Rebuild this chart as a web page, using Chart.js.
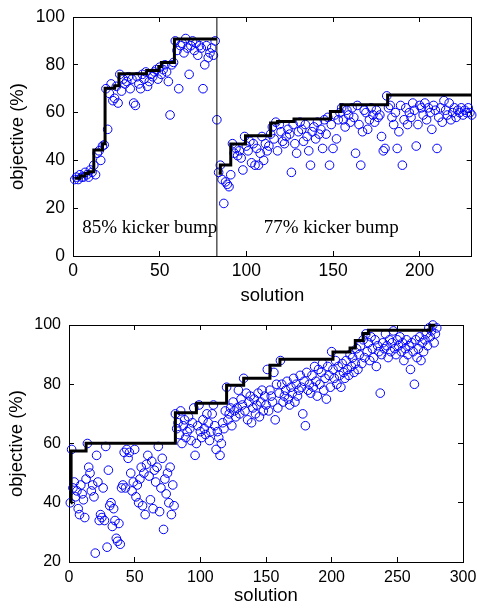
<!DOCTYPE html>
<html>
<head>
<meta charset="utf-8">
<script src="https://cdn.jsdelivr.net/npm/chart.js@4"></script>
<style>
  body { margin: 0; background: #fff; }
  canvas { position: absolute; left: 0; top: 0; }
</style>
</head>
<body>
<canvas id="top-chart" width="477" height="608"></canvas>
<canvas id="bottom-chart" width="477" height="608"></canvas>
<script>
// top plot: objective per solution, x = index + 1
const topObjective = [
  32, 33, 32, 34, 33, 33, 35, 34, 33, 36,
  35, 38, 34, 43, 44, 40, 46, 46.5, 70, 53,
  68, 72, 65, 66, 71, 64, 76, 69, 74, 72,
  73, 75, 70, 74, 64, 63, 75, 72, 70, 76,
  74, 77, 71, 73, 76, 75, 77, 78, 74, 79,
  76, 78, 80, 77, 73, 59, 80, 81, 90, 86,
  70, 88, 89, 85, 91, 87, 76, 88, 90, 86,
  89, 84, 88, 87, 70, 80, 88, 83, 85, 87,
  84, 90, 57,
  35, 38, 32, 22, 31, 30, 29, 34, 47, 43,
  45, 42, 44, 41, 36, 50, 46, 44, 48, 39,
  47, 38, 45, 38, 43, 50, 40, 47, 44, 46,
  51, 54, 49, 56, 44, 55, 52, 48, 47, 50,
  53, 51, 35, 55, 47, 43, 52, 56, 53, 48,
  55, 50, 44, 38, 52, 54, 49, 56, 51, 53,
  45, 57, 51, 58, 38, 55, 45, 59, 49, 57,
  60, 62, 57, 54, 61, 59, 56, 62, 58, 43,
  63, 55, 38, 52, 61, 60, 53, 57, 62, 59,
  56, 61, 58, 59, 50, 44, 45, 67, 62, 63,
  58, 55, 60, 45, 52, 63, 38, 57, 62, 55,
  60, 58, 64, 61, 46, 55, 63, 62, 59, 64,
  57, 62, 60, 53, 63, 61, 45, 58, 62, 56,
  65, 61, 59, 64, 57, 60, 62, 58, 61, 60,
  62, 59, 61, 60, 62, 60, 59
];
const bumpSplit = 83;
const topBest85X = [1, 4, 7, 9, 12, 17, 18.5, 24, 26.5, 42.5, 49.5, 51, 58.5, 83];
const topBest85Y = [32.5, 33.5, 34.5, 35.3, 44.3, 47, 70.2, 71.2, 76.3, 77.6, 79.3, 81, 90.8, 90.8];
const topBest77X = [84, 85, 91, 99.5, 114, 118, 127.5, 148.5, 154.5, 181.5, 230];
const topBest77Y = [34.6, 38.1, 46.9, 50.3, 55.6, 56.3, 57.3, 60.5, 63.3, 67.4, 67.4];
const kickerTexts = ['85% kicker bump', '77% kicker bump'];

// bottom plot
const bottomObjective = [
  40, 58, 45, 47, 42, 44, 38, 36, 46, 43,
  41, 35, 48, 60, 52, 50, 44, 46, 42, 23,
  56, 47, 34, 36, 35, 45, 34, 59, 25, 51,
  39, 40, 32, 38, 34, 28, 27, 33, 26, 45,
  46, 57, 45, 58, 55, 57, 50, 44, 47, 58,
  42, 46, 40, 48, 52, 39, 50, 36, 53, 56,
  49, 41, 54, 38, 51, 47, 52, 59, 37, 45,
  55, 31, 48, 43, 50, 40, 52, 36, 46, 39,
  70, 65, 67, 63, 71, 60, 66, 68, 62, 64,
  69, 65, 61, 67, 72, 56, 60, 66, 73, 64,
  62, 68, 65, 63, 70, 67, 61, 64, 70, 73,
  66, 58, 64, 62, 56, 60, 67, 65, 71, 79,
  68, 70, 72, 66, 74, 71, 69, 72, 78, 70,
  75, 73, 82, 71, 77, 68, 74, 76, 67, 72,
  75, 70, 73, 77, 69, 74, 78, 71, 76, 73,
  85, 71, 78, 76, 74, 84, 68, 80, 72, 77,
  88, 80, 74, 76, 78, 81, 75, 73, 79, 77,
  82, 74, 80, 76, 78, 83, 79, 70, 81, 66,
  84, 78, 80, 77, 83, 79, 86, 81, 76, 85,
  80, 84, 87, 78, 82, 75, 86, 83, 79, 91,
  85, 82, 88, 80, 86, 83, 79, 87, 84, 82,
  88, 85, 83, 90, 86, 89, 84, 87, 92, 85,
  90, 93, 87, 95, 89, 97, 91, 94, 88, 96,
  92, 89, 95, 86, 93, 91, 77, 90, 94, 92,
  97, 93, 89, 95, 91, 94, 98, 92, 90, 95,
  93, 96, 91, 94, 88, 92, 95, 90, 93, 85,
  94, 91, 80, 95, 89, 92, 96, 88, 94, 91,
  95, 97, 93, 99, 96, 98, 100, 94, 97, 99
];
const bottomBestX = [1.3, 1.6, 13, 81, 97, 120, 133, 153, 160.6, 201, 214, 218, 224, 228, 275, 279];
const bottomBestY = [40, 57.5, 60.1, 70.4, 73.6, 79.7, 82, 86.4, 88.4, 90.9, 92.2, 94.8, 97.1, 98.2, 99.9, 99.9];

Chart.defaults.font.family = '"Liberation Sans", Arial, Helvetica, sans-serif';
Chart.defaults.color = '#000';

const toPoints = (xs, ys) => xs.map((x, i) => ({ x: x, y: ys[i] }));
const solutionPoints = (ys) => ys.map((y, i) => ({ x: i + 1, y: y }));

function fixSize(size) {
  return function (scale) {
    if (scale.isHorizontal()) scale.height = size; else scale.width = size;
    scale.paddingLeft = scale.paddingRight = scale.paddingTop = scale.paddingBottom = 0;
  };
}

function axis(position, min, max, step, size, labelFont, labelPad, title, titlePad) {
  return {
    type: 'linear',
    position: position,
    min: min,
    max: max,
    ticks: {
      stepSize: step,
      includeBounds: false,
      display: labelFont > 0,
      font: { size: labelFont || 12 },
      padding: labelPad || 0,
      color: '#000'
    },
    grid: { drawOnChartArea: false, drawTicks: true, tickLength: -5, color: '#000', lineWidth: 1 },
    border: { display: true, color: '#000', width: 1 },
    title: title ? { display: true, text: title, font: { size: 18.5 }, color: '#000', padding: titlePad } : { display: false },
    afterFit: fixSize(size)
  };
}

const textPlugin = {
  id: 'kickerText',
  afterDatasetsDraw(chart, args, opts) {
    if (!opts.items) return;
    const ctx = chart.ctx;
    ctx.save();
    ctx.font = '19px "Liberation Serif", "Times New Roman", serif';
    ctx.fillStyle = '#000';
    ctx.textAlign = 'center';
    ctx.textBaseline = 'alphabetic';
    opts.items.forEach(function (it) {
      ctx.fillText(it.text, chart.scales.x.getPixelForValue(it.x), chart.scales.y.getPixelForValue(it.y));
    });
    ctx.restore();
  }
};

const stepLine = (data) => ({
  data: data, showLine: true, stepped: true, borderColor: '#000', borderWidth: 3,
  pointRadius: 0, fill: false, clip: false
});
const circles = (data) => ({
  data: data, showLine: false, pointStyle: 'circle', pointRadius: 4.3,
  pointBorderWidth: 1, pointBorderColor: 'rgb(0,0,255)', pointBackgroundColor: 'rgba(0,0,0,0)',
  clip: false
});

new Chart(document.getElementById('top-chart'), {
  type: 'scatter',
  data: {
    datasets: [
      stepLine(toPoints(topBest85X, topBest85Y)),
      stepLine(toPoints(topBest77X, topBest77Y)),
      { data: [{ x: bumpSplit, y: 0 }, { x: bumpSplit, y: 100 }], showLine: true, borderColor: '#000',
        borderWidth: 1, pointRadius: 0 },
      circles(solutionPoints(topObjective))
    ]
  },
  options: {
    responsive: false,
    animation: false,
    layout: { padding: { top: 0, left: 0, right: 0, bottom: 301 } },
    plugins: {
      legend: { display: false },
      tooltip: { enabled: false },
      kickerText: { items: [
        { text: kickerTexts[0], x: 44.3, y: 9.6 },
        { text: kickerTexts[1], x: 149, y: 9.6 }
      ] }
    },
    scales: {
      x: axis('bottom', 0, 230, 50, 51, 17.5, 10, 'solution', { top: 0, bottom: 0 }),
      x2: axis('top', 0, 230, 50, 17),
      y: axis('left', 0, 100, 20, 73, 17.5, 13, 'objective (%)', { top: 7, bottom: 0 }),
      y2: axis('right', 0, 100, 20, 5)
    }
  },
  plugins: [textPlugin]
});

new Chart(document.getElementById('bottom-chart'), {
  type: 'scatter',
  data: {
    datasets: [
      stepLine(toPoints(bottomBestX, bottomBestY)),
      circles(solutionPoints(bottomObjective))
    ]
  },
  options: {
    responsive: false,
    animation: false,
    layout: { padding: { top: 300, left: 0, right: 0, bottom: 0 } },
    plugins: { legend: { display: false }, tooltip: { enabled: false } },
    scales: {
      x: axis('bottom', 0, 300, 50, 46, 16, 11, 'solution', { top: 0, bottom: 1 }),
      x2: axis('top', 0, 300, 50, 25),
      y: axis('left', 20, 100, 20, 69, 16, 13, 'objective (%)', { top: 6, bottom: 0 }),
      y2: axis('right', 20, 100, 20, 14)
    }
  }
});
</script>
</body>
</html>
